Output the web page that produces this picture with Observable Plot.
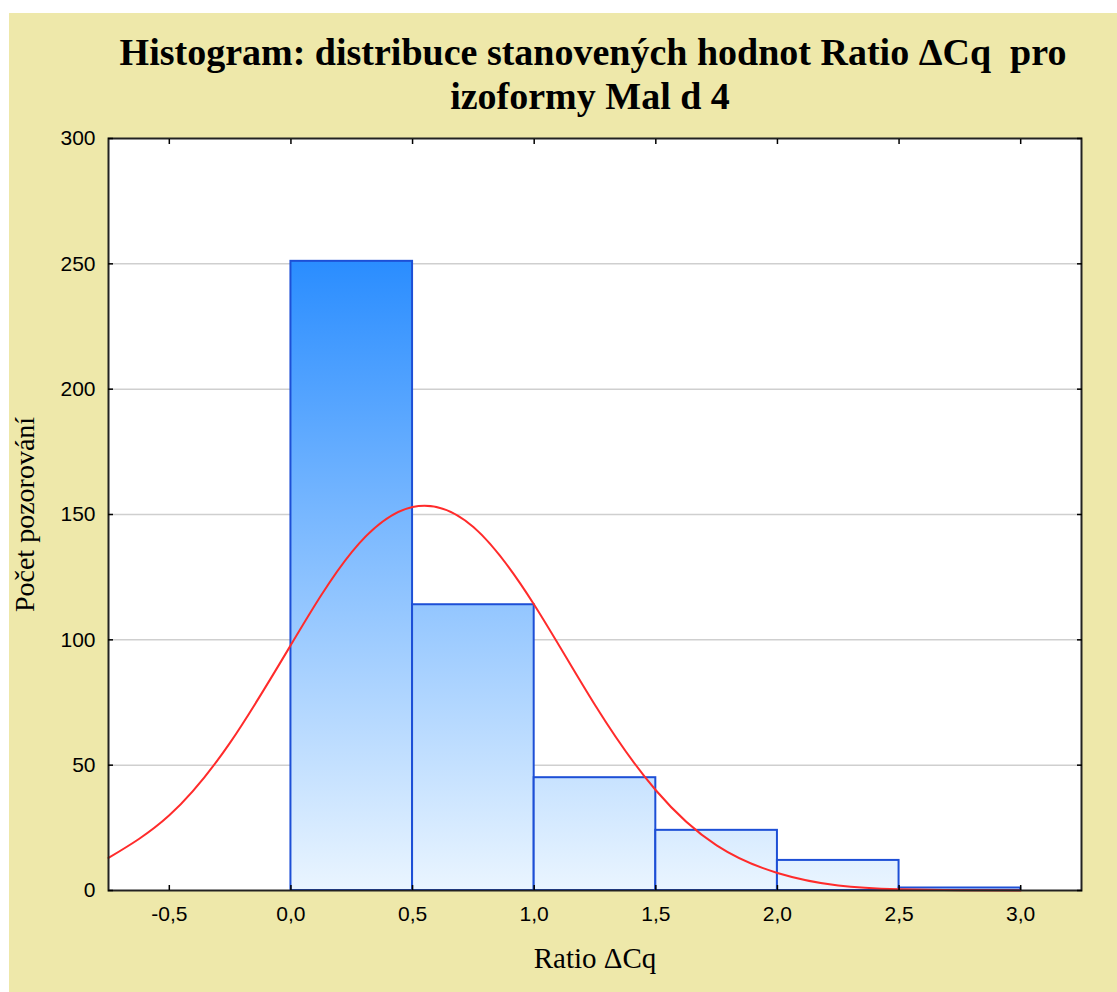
<!DOCTYPE html>
<html>
<head>
<meta charset="utf-8">
<script src="https://cdn.jsdelivr.net/npm/d3@7"></script>
<script src="https://cdn.jsdelivr.net/npm/@observablehq/plot@0.6"></script>
<style>
  html, body { margin: 0; padding: 0; background: #ffffff; }
  #page { position: absolute; left: 9px; top: 13px; width: 1108px; height: 979px; background: #EEE8AA; overflow: hidden; }
  #title { position: relative; height: 110px; }
  .tl { position: absolute; white-space: pre; font-family: "Liberation Serif", "Times New Roman", serif; font-weight: bold; font-size: 38px; line-height: 38px; color: #000; transform: translateX(-50%); }
  #chart { position: relative; }
</style>
</head>
<body>
<div id="page">
  <div id="title">
    <span class="tl" id="t1" style="left:584px; top:20px;">Histogram: distribuce stanovených hodnot Ratio ΔCq  pro</span>
    <span class="tl" id="t2" style="left:581px; top:64px;">izoformy Mal d 4</span>
  </div>
  <div id="chart"></div>
</div>
<script>
// ---- data ----
const binStart = [0.0, 0.5, 1.0, 1.5, 2.0, 2.5];
const binEnd   = [0.5, 1.0, 1.5, 2.0, 2.5, 3.0];
const counts   = [251, 114, 45, 24, 12, 1];

const curveX = [-0.75, -0.5, -0.25, 0.0, 0.25, 0.5, 0.75, 1.0, 1.25, 1.5, 1.75, 2.0, 2.25, 2.5, 2.75, 3.0];
const curveY = [13, 30, 59, 98, 135, 153, 145, 114, 74, 40, 18, 7, 2, 0.5, 0.1, 0];

const xTicks = [-0.5, 0.0, 0.5, 1.0, 1.5, 2.0, 2.5, 3.0];
const yTicks = [0, 50, 100, 150, 200, 250, 300];
const gridTicks = [50, 100, 150, 200, 250];

const xLabel = "Ratio ΔCq";
const yLabel = "Počet pozorování";

// ---- tables built from the arrays ----
const bars = binStart.map((s, i) => ({x1: s, x2: binEnd[i], y: counts[i]}));
const curve = curveX.map((x, i) => ({x, y: curveY[i]}));

const fmt = d => d.toFixed(1).replace(".", ",");

const W = 1108, H = 869;
const mT = 15, mB = 102, mL = 99, mR = 36;

function gradientDefs(index, scales, values, dims) {
  const yScale = scales && scales.y ? scales.y : (v => dims.marginTop + (1 - v / 300) * (dims.height - dims.marginTop - dims.marginBottom));
  const defs = d3.create("svg:defs");
  const g = defs.append("linearGradient")
    .attr("id", "barGrad")
    .attr("gradientUnits", "userSpaceOnUse")
    .attr("x1", 0).attr("x2", 0)
    .attr("y1", yScale(d3.max(counts)))
    .attr("y2", yScale(0));
  g.append("stop").attr("offset", "0%").attr("stop-color", "#2A8DFF");
  g.append("stop").attr("offset", "100%").attr("stop-color", "#EAF5FF");
  return defs.node();
}

const tickFont = "Liberation Sans, Arial, sans-serif";

const chart = Plot.plot({
  width: W,
  height: H,
  marginTop: mT,
  marginBottom: mB,
  marginLeft: mL,
  marginRight: mR,
  style: { background: "transparent", fontFamily: tickFont, color: "#000", overflow: "visible" },
  x: { domain: [-0.75, 3.25], axis: null },
  y: { domain: [0, 300], axis: null },
  marks: [
    gradientDefs,
    Plot.frame({ fill: "#ffffff", stroke: null }),
    Plot.gridY(gridTicks, { stroke: "#cfcfcf", strokeOpacity: 1, strokeWidth: 1.5 }),
    Plot.rectY(bars, { x1: "x1", x2: "x2", y: "y", fill: "url(#barGrad)", stroke: "#1D4FD6", strokeWidth: 2 }),
    Plot.line(curve, { x: "x", y: "y", curve: "natural", stroke: "#FF2B2B", strokeWidth: 2 }),
    Plot.frame({ stroke: "#222222", strokeWidth: 2 }),
    Plot.axisX(xTicks, { anchor: "bottom", tickSize: -5, tickPadding: 21, tickFormat: fmt, fontSize: 21, label: null, stroke: "#000", strokeWidth: 1.5 }),
    Plot.axisX(xTicks, { anchor: "top", tickSize: -5, tickFormat: () => "", label: null, stroke: "#000", strokeWidth: 1.5 }),
    Plot.axisY(yTicks, { anchor: "left", tickSize: -5, tickPadding: 18, tickFormat: d => String(d), fontSize: 21, label: null, stroke: "#000", strokeWidth: 1.5 }),
    Plot.axisY(yTicks, { anchor: "right", tickSize: -5, tickFormat: () => "", label: null, stroke: "#000", strokeWidth: 1.5 }),
    Plot.text([xLabel], { frameAnchor: "bottom", dy: 68, text: d => d, textAnchor: "middle", lineAnchor: "middle", fontSize: 29, fontFamily: "Liberation Serif, Times New Roman, serif", fill: "#000" }),
    Plot.text([yLabel], { frameAnchor: "left", dx: -83, text: d => d, rotate: -90, textAnchor: "middle", lineAnchor: "middle", fontSize: 28, fontFamily: "Liberation Serif, Times New Roman, serif", fill: "#000" })
  ]
});

document.getElementById("chart").appendChild(chart);
</script>
</body>
</html>
